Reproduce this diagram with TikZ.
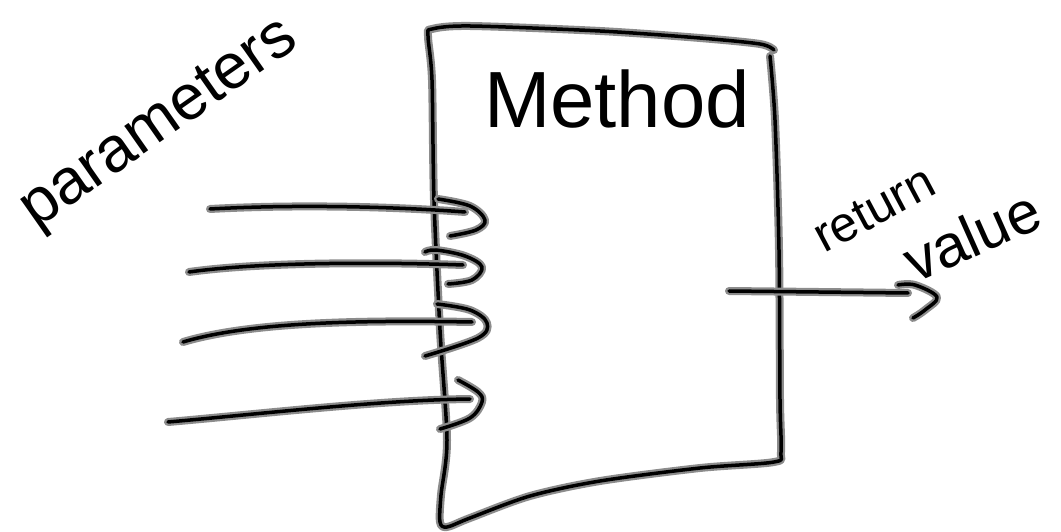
\documentclass[tikz,border=0pt]{standalone}
\usepackage{fontspec}
\setmainfont{Liberation Sans}
\usetikzlibrary{positioning}
\tikzset{sketch/.style={line width=3.5bp, line cap=round, line join=round, preaction={draw=black!45, line width=8bp, line cap=round, line join=round}}}
\tikzset{scrawl/.style={font=\fontsize{#1}{#1}\selectfont, inner sep=0pt}}

\begin{document}
\begin{tikzpicture}[x=1bp, y=-1bp]
\useasboundingbox (0,0) rectangle (1061,532);
% the method box
\draw[sketch] plot[smooth, tension=0.5] coordinates {(770,56) (775,120) (779,250) (780,400) (781,452) (774,462) (700,468) (600,481) (530,496) (470,518) (447,527) (440,522) (441,495) (447,440) (440,330) (434,200) (432,80) (428,36) (432,29) (470,26) (600,31) (700,38) (760,44) (774,50)};
\node[scrawl=80] (method) at (617,99) {Method};
%
\node[scrawl=64, anchor=base west, rotate=35] (params) at (36,230) {parameters};
\node[scrawl=50, anchor=base west, rotate=28] (ret) at (824,254) {return};
\node[scrawl=60, anchor=base west, rotate=24] (val) at (915,284) {value};
% parameter arrows
\coordinate (p1) at (210,209); \coordinate (q1) at (465,212);
\coordinate (p2) at (189,272); \coordinate (q2) at (463,265);
\coordinate (p3) at (183,342); \coordinate (q3) at (472,322);
\coordinate (p4) at (168,422); \coordinate (q4) at (470,399);
\draw[sketch] (p1) .. controls (300,204) and (400,207) .. (q1);
\draw[sketch] (p2) .. controls (260,262) and (380,262) .. (q2);
\draw[sketch] (p3) .. controls (250,322) and (360,320) .. (q3);
\draw[sketch] (p4) .. controls (260,414) and (380,400) .. (q4);
\draw[sketch] plot[smooth, tension=0.6] coordinates {(438,199) (470,206) (485,220) (476,230) (450,236)};
\draw[sketch] plot[smooth, tension=0.6] coordinates {(425,252) (436,250) (465,256) (482,267) (472,280) (448,284)};
\draw[sketch] plot[smooth, tension=0.6] coordinates {(437,304) (470,310) (487,323) (478,338) (425,356)};
\draw[sketch] plot[smooth, tension=0.6] coordinates {(458,380) (478,392) (482,402) (470,418) (440,429)};
% return arrow
\coordinate (p5) at (729,291); \coordinate (q5) at (908,293);
\draw[sketch] (p5) -- (q5);
\draw[sketch] plot[smooth, tension=0.6] coordinates {(898,285) (915,285) (937,297) (925,310) (913,318)};
\end{tikzpicture}
\end{document}
